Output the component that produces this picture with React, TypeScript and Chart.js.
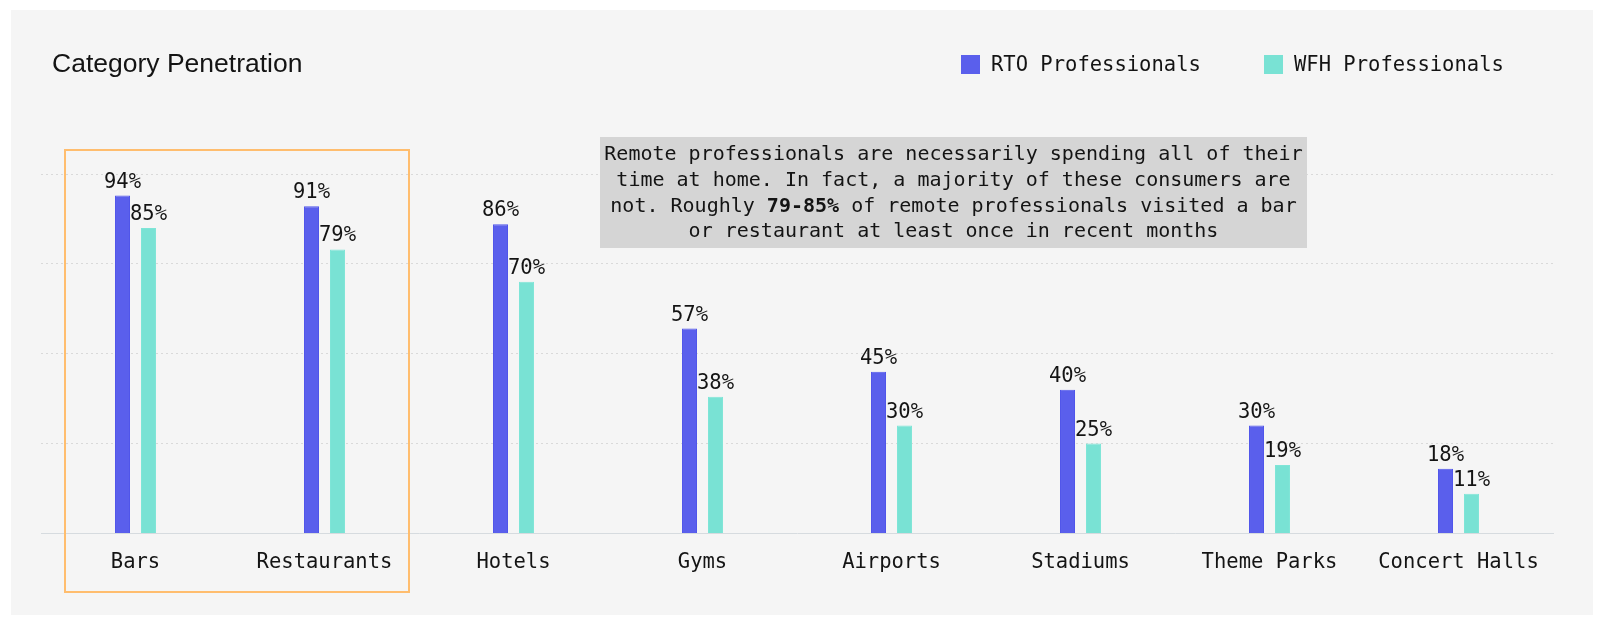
import React, { useEffect, useRef } from 'react';
import { Chart, registerables } from 'chart.js';

Chart.register(...registerables);

// categories and values
const categories = ['Bars', 'Restaurants', 'Hotels', 'Gyms', 'Airports', 'Stadiums', 'Theme Parks', 'Concert Halls'];
const rtoValues = [94, 91, 86, 57, 45, 40, 30, 18];
const wfhValues = [85, 79, 70, 38, 30, 25, 19, 11];
const seriesLabels = ['RTO Professionals', 'WFH Professionals'];

const noteLines = [
  'Remote professionals are necessarily spending all of their',
  'time at home. In fact, a majority of these consumers are',
  'not. Roughly ** of remote professionals visited a bar',
  'or restaurant at least once in recent months',
];
const noteBold = '79-85%';

const MONO = '"DejaVu Sans Mono", monospace';
const TEXT = '#141414';
const RTO_COLOR = '#5a5fec';
const WFH_COLOR = '#79e2d4';

const W = 1582;
const H = 605;

// title, legend, note box, highlight box and value labels
const decorPlugin = {
  id: 'decor',
  beforeDatasetsDraw(chart: Chart) {
    const { ctx } = chart;
    // highlight box round the first two categories
    ctx.save();
    ctx.strokeStyle = '#ffbd6e';
    ctx.lineWidth = 2;
    ctx.strokeRect(54, 140, 344, 442);
    ctx.restore();
  },
  afterDatasetsDraw(chart: Chart) {
    const { ctx } = chart;
    ctx.save();

    // title
    ctx.fillStyle = TEXT;
    ctx.font = '26.5px "Liberation Sans", Arial, sans-serif';
    ctx.textAlign = 'left';
    ctx.textBaseline = 'alphabetic';
    ctx.fillText('Category Penetration', 41, 62);

    // legend
    ctx.font = `20.5px ${MONO}`;
    ctx.textBaseline = 'middle';
    const legendX = [950, 1253];
    chart.data.datasets.forEach((ds, i) => {
      const x = legendX[i];
      ctx.fillStyle = ds.backgroundColor as string;
      ctx.fillRect(x, 45, 19, 19);
      ctx.fillStyle = TEXT;
      ctx.fillText(ds.label as string, x + 30, 56);
    });

    // value labels above bars
    ctx.font = `20.5px ${MONO}`;
    ctx.textAlign = 'center';
    ctx.textBaseline = 'alphabetic';
    ctx.fillStyle = TEXT;
    chart.data.datasets.forEach((ds, i) => {
      const meta = chart.getDatasetMeta(i);
      meta.data.forEach((bar, j) => {
        ctx.fillText(`${ds.data[j]}%`, bar.x, bar.y - 8);
      });
    });

    // note box
    const bx = 589, by = 127, bw = 707, bh = 111;
    ctx.fillStyle = '#d5d5d5';
    ctx.fillRect(bx, by, bw, bh);
    ctx.fillStyle = TEXT;
    const cx = bx + bw / 2;
    noteLines.forEach((line, k) => {
      const y = 150 + k * 25.8;
      if (line.includes('**')) {
        const [pre, post] = line.split('**');
        ctx.font = `20px ${MONO}`;
        const wPre = ctx.measureText(pre).width;
        const wPost = ctx.measureText(post).width;
        ctx.font = `bold 20px ${MONO}`;
        const wBold = ctx.measureText(noteBold).width;
        let x = cx - (wPre + wBold + wPost) / 2;
        ctx.textAlign = 'left';
        ctx.font = `20px ${MONO}`;
        ctx.fillText(pre, x, y);
        x += wPre;
        ctx.font = `bold 20px ${MONO}`;
        ctx.fillText(noteBold, x, y);
        x += wBold;
        ctx.font = `20px ${MONO}`;
        ctx.fillText(post, x, y);
      } else {
        ctx.textAlign = 'center';
        ctx.font = `20px ${MONO}`;
        ctx.fillText(line, cx, y);
      }
    });

    ctx.restore();
  },
};

const App: React.FC = () => {
  const canvasRef = useRef<HTMLCanvasElement>(null);

  useEffect(() => {
    if (!canvasRef.current) return;
    const chart = new Chart(canvasRef.current, {
      type: 'bar',
      data: {
        labels: categories,
        datasets: [
          {
            label: seriesLabels[0],
            data: rtoValues,
            backgroundColor: RTO_COLOR,
            borderColor: '#5055ea',
            borderWidth: 1,
            categoryPercentage: 0.275,
            barPercentage: 0.577,
          },
          {
            label: seriesLabels[1],
            data: wfhValues,
            backgroundColor: WFH_COLOR,
            borderColor: '#7fe5d7',
            borderWidth: 1,
            categoryPercentage: 0.275,
            barPercentage: 0.577,
          },
        ],
      },
      options: {
        responsive: false,
        animation: false,
        layout: { padding: { top: 164, left: 30, right: 40, bottom: 23 } },
        plugins: {
          legend: { display: false },
          title: { display: false },
          tooltip: { enabled: false },
        },
        scales: {
          x: {
            grid: { display: false, drawTicks: false },
            border: { display: true, color: '#d6dbdf', width: 1 },
            ticks: {
              padding: 17,
              color: TEXT,
              font: { family: MONO, size: 20.5 },
              maxRotation: 0,
              autoSkip: false,
            },
          },
          y: {
            min: 0,
            max: 100,
            ticks: { display: false, stepSize: 25 },
            border: { display: false, dash: [2, 3] },
            grid: {
              drawTicks: false,
              lineWidth: 1,
              color: (c: any) => (c.tick && c.tick.value === 0 ? 'rgba(0,0,0,0)' : '#d9d9d9'),
            },
          },
        },
      },
      plugins: [decorPlugin],
    });
    return () => chart.destroy();
  }, []);

  return (
    <div
      style={{
        position: 'absolute',
        left: 11,
        top: 10,
        width: W,
        height: H,
        background: '#f5f5f5',
      }}
    >
      <canvas ref={canvasRef} width={W} height={H} style={{ display: 'block' }} />
    </div>
  );
};

export default App;
